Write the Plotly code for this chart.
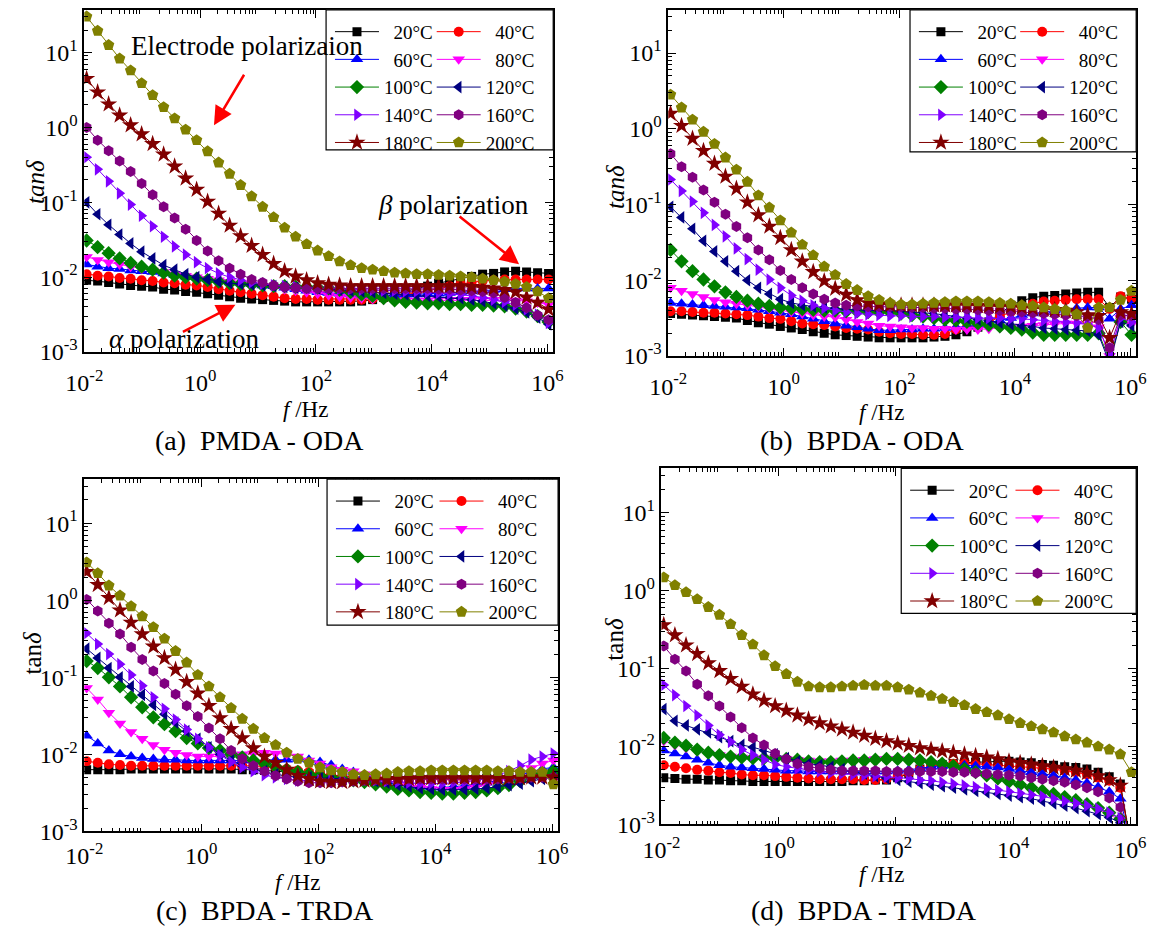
import plotly.graph_objects as go

# ---------------------------------------------------------------- data
FREQ_HZ = [0.01096, 0.01698, 0.0263, 0.04074, 0.0631, 0.09772, 0.1514, 0.2344, 0.3631, 0.5623,
           0.871, 1.349, 2.089, 3.236, 5.012, 7.762, 12.02, 18.62, 28.84, 44.67,
           69.18, 107.2, 166.0, 257.0, 398.1, 616.6, 955.0, 1479, 2291, 3548,
           5495, 8511, 13180, 20420, 31620, 48980, 75860, 117500, 182000, 281800,
           436500, 676100, 1047000]

TEMPS = ["20°C", "40°C", "60°C", "80°C", "100°C", "120°C", "140°C", "160°C", "180°C", "200°C"]
COLORS = ["#000000", "#FF0000", "#0000FF", "#FF00FF", "#008000",
          "#000080", "#8000FF", "#800080", "#800000", "#808000"]
SYMBOLS = ["square", "circle", "triangle-up", "triangle-down", "diamond",
           "triangle-left", "triangle-right", "hexagon", "star", "pentagon"]
MARKER_SIZES = [9, 10, 11, 11, 11, 11, 11, 11, 13, 12]

# log10(tan delta), one list per temperature
# (a) PMDA - ODA
A_20C = [-2.04, -2.05, -2.07, -2.09, -2.11, -2.12, -2.13, -2.16, -2.17, -2.19,
         -2.20, -2.22, -2.24, -2.26, -2.28, -2.29, -2.30, -2.31, -2.32, -2.33,
         -2.33, -2.33, -2.33, -2.33, -2.33, -2.32, -2.30, -2.27, -2.23, -2.19,
         -2.15, -2.12, -2.08, -2.05, -2.02, -1.99, -1.96, -1.95, -1.93, -1.92,
         -1.93, -1.94, -1.95]
A_40C = [-1.96, -1.98, -1.99, -2.01, -2.02, -2.04, -2.05, -2.07, -2.08, -2.10,
         -2.11, -2.13, -2.16, -2.18, -2.20, -2.22, -2.24, -2.26, -2.28, -2.29,
         -2.29, -2.30, -2.30, -2.30, -2.30, -2.30, -2.29, -2.28, -2.26, -2.24,
         -2.21, -2.18, -2.15, -2.12, -2.09, -2.07, -2.05, -2.04, -2.03, -2.03,
         -2.03, -2.03, -2.03]
A_60C = [-1.83, -1.86, -1.88, -1.89, -1.91, -1.92, -1.93, -1.95, -1.97, -1.99,
         -2.00, -2.02, -2.04, -2.05, -2.07, -2.09, -2.11, -2.12, -2.14, -2.16,
         -2.18, -2.20, -2.21, -2.22, -2.23, -2.24, -2.24, -2.24, -2.24, -2.23,
         -2.23, -2.22, -2.22, -2.21, -2.20, -2.19, -2.18, -2.17, -2.16, -2.15,
         -2.15, -2.15, -2.15]
A_80C = [-1.73, -1.77, -1.80, -1.83, -1.86, -1.89, -1.91, -1.93, -1.96, -1.98,
         -2.00, -2.02, -2.04, -2.06, -2.08, -2.10, -2.12, -2.14, -2.16, -2.18,
         -2.20, -2.22, -2.24, -2.26, -2.27, -2.28, -2.29, -2.30, -2.31, -2.31,
         -2.31, -2.31, -2.30, -2.30, -2.30, -2.30, -2.30, -2.30, -2.30, -2.31,
         -2.32, -2.34, -2.37]
A_100C = [-1.51, -1.60, -1.68, -1.75, -1.81, -1.86, -1.90, -1.94, -1.98, -2.00,
          -2.02, -2.04, -2.06, -2.08, -2.09, -2.10, -2.11, -2.12, -2.12, -2.13,
          -2.13, -2.14, -2.15, -2.17, -2.20, -2.23, -2.25, -2.28, -2.31, -2.33,
          -2.34, -2.35, -2.35, -2.36, -2.36, -2.37, -2.37, -2.38, -2.39, -2.42,
          -2.46, -2.52, -2.60]
A_120C = [-1.00, -1.16, -1.30, -1.43, -1.55, -1.66, -1.75, -1.84, -1.90, -1.96,
          -2.00, -2.03, -2.06, -2.08, -2.09, -2.10, -2.11, -2.12, -2.13, -2.14,
          -2.14, -2.15, -2.16, -2.17, -2.18, -2.19, -2.20, -2.21, -2.22, -2.23,
          -2.24, -2.25, -2.26, -2.27, -2.28, -2.30, -2.32, -2.35, -2.38, -2.42,
          -2.47, -2.54, -2.63]
A_140C = [-0.40, -0.56, -0.72, -0.88, -1.03, -1.18, -1.32, -1.46, -1.59, -1.70,
          -1.80, -1.88, -1.95, -2.00, -2.04, -2.07, -2.09, -2.11, -2.12, -2.13,
          -2.14, -2.15, -2.15, -2.16, -2.16, -2.17, -2.17, -2.18, -2.18, -2.19,
          -2.19, -2.20, -2.21, -2.22, -2.23, -2.25, -2.27, -2.30, -2.33, -2.37,
          -2.43, -2.50, -2.61]
A_160C = [0.00, -0.17, -0.31, -0.45, -0.59, -0.75, -0.90, -1.06, -1.21, -1.36,
          -1.51, -1.65, -1.78, -1.88, -1.96, -2.03, -2.07, -2.11, -2.13, -2.14,
          -2.15, -2.15, -2.15, -2.15, -2.15, -2.15, -2.15, -2.15, -2.15, -2.15,
          -2.15, -2.15, -2.16, -2.16, -2.17, -2.18, -2.19, -2.21, -2.27, -2.34,
          -2.41, -2.51, -2.57]
A_180C = [0.65, 0.47, 0.31, 0.16, 0.03, -0.09, -0.22, -0.36, -0.52, -0.68,
          -0.83, -0.99, -1.15, -1.31, -1.45, -1.58, -1.70, -1.82, -1.92, -1.99,
          -2.04, -2.08, -2.10, -2.11, -2.12, -2.12, -2.12, -2.12, -2.12, -2.12,
          -2.12, -2.12, -2.12, -2.12, -2.12, -2.13, -2.14, -2.15, -2.17, -2.20,
          -2.27, -2.34, -2.43]
A_200C = [1.48, 1.29, 1.10, 0.92, 0.76, 0.59, 0.43, 0.27, 0.12, -0.03,
          -0.17, -0.32, -0.47, -0.62, -0.77, -0.92, -1.06, -1.20, -1.34, -1.46,
          -1.56, -1.645, -1.72, -1.79, -1.84, -1.88, -1.90, -1.92, -1.94, -1.95,
          -1.96, -1.96, -1.97, -1.98, -1.99, -2.00, -2.02, -2.04, -2.06, -2.09,
          -2.13, -2.19, -2.28]

# (b) BPDA - ODA
B_20C = [-2.44, -2.45, -2.46, -2.47, -2.48, -2.49, -2.50, -2.53, -2.56, -2.58,
         -2.61, -2.63, -2.65, -2.68, -2.70, -2.72, -2.73, -2.74, -2.75, -2.76,
         -2.76, -2.76, -2.76, -2.76, -2.75, -2.74, -2.72, -2.68, -2.62, -2.55,
         -2.45, -2.33, -2.27, -2.23, -2.21, -2.20, -2.18, -2.17, -2.16, -2.16,
         -2.36, -2.22, -2.25]
B_40C = [-2.41, -2.41, -2.42, -2.43, -2.43, -2.44, -2.45, -2.46, -2.48, -2.50,
         -2.51, -2.54, -2.57, -2.58, -2.59, -2.61, -2.63, -2.64, -2.65, -2.68,
         -2.70, -2.71, -2.71, -2.72, -2.72, -2.71, -2.65, -2.62, -2.60, -2.56,
         -2.48, -2.42, -2.36, -2.31, -2.28, -2.27, -2.26, -2.25, -2.25, -2.25,
         -2.38, -2.21, -2.24]
B_60C = [-2.30, -2.31, -2.32, -2.33, -2.34, -2.35, -2.36, -2.37, -2.39, -2.41,
         -2.43, -2.45, -2.48, -2.51, -2.54, -2.57, -2.60, -2.62, -2.64, -2.66,
         -2.66, -2.65, -2.65, -2.64, -2.64, -2.63, -2.62, -2.61, -2.59, -2.56,
         -2.53, -2.50, -2.46, -2.44, -2.42, -2.40, -2.38, -2.37, -2.36, -2.36,
         -2.51, -2.38, -2.33]
B_80C = [-2.10, -2.14, -2.18, -2.22, -2.26, -2.29, -2.31, -2.33, -2.35, -2.38,
         -2.40, -2.42, -2.44, -2.46, -2.48, -2.49, -2.52, -2.55, -2.57, -2.60,
         -2.61, -2.62, -2.63, -2.63, -2.64, -2.64, -2.65, -2.65, -2.65, -2.64,
         -2.63, -2.62, -2.61, -2.60, -2.59, -2.58, -2.57, -2.57, -2.58, -2.62,
         -3.00, -2.50, -2.58]
B_100C = [-1.60, -1.75, -1.88, -1.99, -2.08, -2.16, -2.22, -2.27, -2.31, -2.34,
          -2.36, -2.37, -2.38, -2.39, -2.40, -2.40, -2.41, -2.41, -2.42, -2.42,
          -2.42, -2.44, -2.46, -2.48, -2.50, -2.52, -2.53, -2.55, -2.57, -2.59,
          -2.61, -2.63, -2.65, -2.69, -2.72, -2.72, -2.72, -2.72, -2.72, -2.70,
          -3.05, -2.55, -2.72]
B_120C = [-1.03, -1.17, -1.32, -1.48, -1.62, -1.75, -1.88, -2.00, -2.10, -2.18,
          -2.25, -2.30, -2.33, -2.35, -2.36, -2.37, -2.38, -2.39, -2.40, -2.40,
          -2.40, -2.41, -2.42, -2.43, -2.44, -2.46, -2.48, -2.50, -2.52, -2.54,
          -2.56, -2.58, -2.60, -2.62, -2.63, -2.64, -2.65, -2.66, -2.67, -2.72,
          -3.10, -2.55, -2.60]
B_140C = [-0.67, -0.82, -0.96, -1.11, -1.27, -1.42, -1.58, -1.72, -1.86, -1.99,
          -2.10, -2.20, -2.27, -2.33, -2.37, -2.40, -2.42, -2.44, -2.45, -2.46,
          -2.47, -2.47, -2.48, -2.48, -2.48, -2.49, -2.49, -2.49, -2.50, -2.50,
          -2.50, -2.51, -2.51, -2.52, -2.53, -2.54, -2.55, -2.56, -2.58, -2.63,
          -2.97, -2.50, -2.55]
B_160C = [-0.33, -0.50, -0.64, -0.81, -0.97, -1.13, -1.29, -1.44, -1.60, -1.73,
          -1.87, -1.99, -2.10, -2.18, -2.25, -2.30, -2.33, -2.34, -2.35, -2.35,
          -2.35, -2.35, -2.36, -2.36, -2.37, -2.37, -2.38, -2.38, -2.39, -2.40,
          -2.40, -2.41, -2.42, -2.43, -2.44, -2.45, -2.46, -2.47, -2.48, -2.52,
          -2.89, -2.46, -2.47]
B_180C = [0.20, 0.04, -0.13, -0.29, -0.46, -0.63, -0.79, -0.97, -1.14, -1.29,
          -1.44, -1.60, -1.75, -1.89, -2.01, -2.11, -2.19, -2.26, -2.30, -2.32,
          -2.33, -2.33, -2.33, -2.33, -2.33, -2.33, -2.33, -2.33, -2.34, -2.34,
          -2.35, -2.35, -2.36, -2.37, -2.38, -2.39, -2.40, -2.42, -2.46, -2.47,
          -2.76, -2.42, -2.44]
B_200C = [0.45, 0.28, 0.12, -0.04, -0.20, -0.38, -0.54, -0.70, -0.88, -1.04,
          -1.21, -1.37, -1.53, -1.67, -1.82, -1.93, -2.05, -2.13, -2.21, -2.26,
          -2.30, -2.32, -2.32, -2.31, -2.30, -2.29, -2.28, -2.28, -2.28, -2.29,
          -2.30, -2.31, -2.33, -2.34, -2.36, -2.38, -2.40, -2.45, -2.63, -2.36,
          -2.36, -2.26, -2.14]

# (c) BPDA - TRDA
C_20C = [-2.20, -2.20, -2.20, -2.20, -2.19, -2.19, -2.19, -2.19, -2.19, -2.19,
         -2.19, -2.19, -2.19, -2.19, -2.20, -2.20, -2.21, -2.22, -2.23, -2.24,
         -2.25, -2.26, -2.27, -2.28, -2.29, -2.30, -2.31, -2.31, -2.31, -2.32,
         -2.32, -2.32, -2.32, -2.32, -2.32, -2.32, -2.31, -2.31, -2.30, -2.29,
         -2.28, -2.27, -2.27]
C_40C = [-2.09, -2.11, -2.13, -2.14, -2.15, -2.15, -2.15, -2.15, -2.15, -2.15,
         -2.15, -2.15, -2.15, -2.15, -2.15, -2.15, -2.16, -2.17, -2.19, -2.21,
         -2.23, -2.25, -2.27, -2.29, -2.30, -2.31, -2.31, -2.32, -2.32, -2.32,
         -2.33, -2.33, -2.33, -2.33, -2.33, -2.33, -2.32, -2.31, -2.30, -2.29,
         -2.28, -2.27, -2.27]
C_60C = [-1.76, -1.86, -1.95, -2.00, -2.03, -2.05, -2.06, -2.07, -2.07, -2.08,
         -2.08, -2.08, -2.08, -2.08, -2.08, -2.08, -2.08, -2.07, -2.07, -2.06,
         -2.07, -2.10, -2.14, -2.19, -2.23, -2.27, -2.31, -2.35, -2.38, -2.41,
         -2.42, -2.43, -2.43, -2.42, -2.41, -2.39, -2.37, -2.34, -2.30, -2.26,
         -2.22, -2.19, -2.17]
C_80C = [-1.14, -1.29, -1.46, -1.60, -1.71, -1.80, -1.88, -1.94, -1.98, -2.01,
         -2.03, -2.03, -2.03, -2.02, -2.00, -1.99, -1.98, -1.99, -2.00, -2.03,
         -2.08, -2.12, -2.17, -2.20, -2.22, -2.26, -2.30, -2.34, -2.38, -2.41,
         -2.43, -2.45, -2.46, -2.46, -2.45, -2.43, -2.40, -2.36, -2.31, -2.25,
         -2.18, -2.12, -2.08]
C_100C = [-0.79, -0.88, -1.00, -1.12, -1.26, -1.39, -1.52, -1.61, -1.70, -1.79,
          -1.86, -1.92, -1.95, -2.00, -2.04, -2.08, -2.12, -2.16, -2.20, -2.23,
          -2.26, -2.28, -2.30, -2.32, -2.34, -2.36, -2.39, -2.42, -2.45, -2.47,
          -2.49, -2.50, -2.51, -2.51, -2.50, -2.49, -2.47, -2.44, -2.40, -2.35,
          -2.30, -2.25, -2.22]
C_120C = [-0.63, -0.75, -0.88, -1.00, -1.12, -1.23, -1.36, -1.48, -1.59, -1.70,
          -1.80, -1.91, -2.00, -2.08, -2.15, -2.19, -2.22, -2.26, -2.28, -2.30,
          -2.30, -2.31, -2.31, -2.32, -2.32, -2.33, -2.35, -2.37, -2.40, -2.42,
          -2.44, -2.45, -2.46, -2.46, -2.46, -2.45, -2.44, -2.42, -2.40, -2.38,
          -2.35, -2.32, -2.30]
C_140C = [-0.43, -0.57, -0.70, -0.83, -0.97, -1.11, -1.26, -1.41, -1.55, -1.68,
          -1.80, -1.91, -2.01, -2.10, -2.17, -2.22, -2.27, -2.30, -2.32, -2.34,
          -2.34, -2.34, -2.34, -2.33, -2.33, -2.33, -2.34, -2.35, -2.36, -2.37,
          -2.38, -2.38, -2.38, -2.37, -2.36, -2.34, -2.31, -2.27, -2.22, -2.15,
          -2.07, -2.03, -1.99]
C_160C = [0.01, -0.14, -0.30, -0.44, -0.61, -0.77, -0.92, -1.08, -1.22, -1.37,
          -1.51, -1.66, -1.80, -1.95, -2.06, -2.15, -2.22, -2.28, -2.32, -2.35,
          -2.37, -2.37, -2.37, -2.36, -2.35, -2.34, -2.33, -2.33, -2.32, -2.32,
          -2.32, -2.32, -2.32, -2.32, -2.32, -2.32, -2.32, -2.32, -2.31, -2.31,
          -2.30, -2.30, -2.30]
C_180C = [0.37, 0.20, 0.03, -0.13, -0.29, -0.44, -0.60, -0.75, -0.90, -1.06,
          -1.21, -1.37, -1.53, -1.67, -1.79, -1.92, -2.03, -2.11, -2.20, -2.28,
          -2.32, -2.35, -2.36, -2.36, -2.35, -2.34, -2.33, -2.33, -2.32, -2.32,
          -2.31, -2.31, -2.31, -2.31, -2.31, -2.31, -2.31, -2.31, -2.31, -2.31,
          -2.30, -2.30, -2.30]
C_200C = [0.49, 0.35, 0.19, 0.06, -0.08, -0.21, -0.35, -0.50, -0.66, -0.81,
          -0.97, -1.12, -1.26, -1.40, -1.54, -1.67, -1.79, -1.88, -1.98, -2.06,
          -2.11, -2.17, -2.21, -2.23, -2.26, -2.27, -2.26, -2.25, -2.23, -2.22,
          -2.22, -2.21, -2.21, -2.21, -2.21, -2.21, -2.21, -2.22, -2.22, -2.23,
          -2.23, -2.23, -2.39]

# (d) BPDA - TMDA
D_20C = [-2.40, -2.41, -2.42, -2.42, -2.43, -2.43, -2.44, -2.44, -2.45, -2.45,
         -2.45, -2.45, -2.45, -2.45, -2.45, -2.45, -2.45, -2.44, -2.44, -2.43,
         -2.43, -2.40, -2.35, -2.29, -2.25, -2.23, -2.22, -2.21, -2.20, -2.20,
         -2.19, -2.19, -2.20, -2.21, -2.23, -2.24, -2.26, -2.27, -2.29, -2.33,
         -2.39, -2.48, -3.30]
D_40C = [-2.24, -2.26, -2.28, -2.30, -2.31, -2.33, -2.34, -2.36, -2.37, -2.37,
         -2.38, -2.39, -2.40, -2.41, -2.42, -2.42, -2.42, -2.42, -2.43, -2.43,
         -2.42, -2.39, -2.34, -2.29, -2.25, -2.23, -2.22, -2.22, -2.22, -2.23,
         -2.24, -2.25, -2.26, -2.27, -2.28, -2.29, -2.31, -2.33, -2.36, -2.40,
         -2.44, -2.53, -3.30]
D_60C = [-2.05, -2.09, -2.13, -2.17, -2.21, -2.24, -2.26, -2.27, -2.28, -2.29,
         -2.30, -2.31, -2.31, -2.32, -2.32, -2.32, -2.32, -2.32, -2.32, -2.32,
         -2.32, -2.31, -2.30, -2.28, -2.26, -2.25, -2.24, -2.24, -2.25, -2.26,
         -2.27, -2.29, -2.31, -2.33, -2.35, -2.37, -2.40, -2.43, -2.47, -2.52,
         -2.58, -2.67, -3.30]
D_80C = [-1.93, -1.98, -2.02, -2.06, -2.09, -2.11, -2.13, -2.14, -2.15, -2.15,
         -2.16, -2.16, -2.17, -2.18, -2.19, -2.19, -2.18, -2.18, -2.17, -2.16,
         -2.16, -2.16, -2.17, -2.19, -2.21, -2.24, -2.27, -2.31, -2.35, -2.39,
         -2.43, -2.47, -2.51, -2.55, -2.59, -2.63, -2.67, -2.71, -2.76, -2.81,
         -2.87, -2.95, -3.30]
D_100C = [-1.89, -1.95, -1.99, -2.04, -2.08, -2.11, -2.13, -2.14, -2.15, -2.15,
          -2.15, -2.16, -2.17, -2.19, -2.20, -2.20, -2.19, -2.18, -2.18, -2.17,
          -2.16, -2.16, -2.17, -2.18, -2.20, -2.22, -2.25, -2.29, -2.33, -2.37,
          -2.41, -2.45, -2.49, -2.53, -2.57, -2.61, -2.65, -2.69, -2.74, -2.79,
          -2.85, -2.93, -3.30]
D_120C = [-1.52, -1.67, -1.73, -1.78, -1.82, -1.88, -1.93, -1.98, -2.01, -2.05,
          -2.10, -2.15, -2.19, -2.22, -2.24, -2.26, -2.29, -2.32, -2.35, -2.38,
          -2.41, -2.43, -2.45, -2.47, -2.49, -2.51, -2.53, -2.55, -2.57, -2.59,
          -2.61, -2.63, -2.65, -2.67, -2.70, -2.73, -2.76, -2.79, -2.83, -2.87,
          -2.91, -2.98, -3.30]
D_140C = [-1.21, -1.34, -1.48, -1.60, -1.73, -1.85, -1.94, -2.04, -2.11, -2.17,
          -2.23, -2.26, -2.28, -2.30, -2.32, -2.34, -2.35, -2.36, -2.37, -2.38,
          -2.39, -2.40, -2.41, -2.43, -2.44, -2.46, -2.48, -2.50, -2.52, -2.54,
          -2.56, -2.58, -2.60, -2.62, -2.64, -2.67, -2.70, -2.73, -2.76, -2.80,
          -2.85, -2.92, -3.30]
D_160C = [-0.71, -0.88, -1.03, -1.20, -1.35, -1.48, -1.62, -1.76, -1.89, -1.98,
          -2.09, -2.16, -2.22, -2.26, -2.28, -2.30, -2.31, -2.31, -2.31, -2.31,
          -2.32, -2.32, -2.32, -2.32, -2.32, -2.32, -2.33, -2.33, -2.34, -2.35,
          -2.36, -2.37, -2.38, -2.40, -2.42, -2.44, -2.46, -2.49, -2.53, -2.58,
          -2.66, -2.78, -3.30]
D_180C = [-0.44, -0.57, -0.70, -0.81, -0.93, -1.03, -1.13, -1.23, -1.33, -1.41,
          -1.48, -1.54, -1.60, -1.65, -1.70, -1.74, -1.78, -1.82, -1.86, -1.90,
          -1.93, -1.96, -1.99, -2.02, -2.04, -2.06, -2.08, -2.10, -2.12, -2.14,
          -2.16, -2.19, -2.21, -2.23, -2.25, -2.27, -2.29, -2.31, -2.34, -2.38,
          -2.43, -2.50, -3.30]
D_200C = [0.17, 0.07, -0.02, -0.11, -0.21, -0.31, -0.43, -0.57, -0.69, -0.83,
          -0.97, -1.07, -1.17, -1.23, -1.24, -1.24, -1.23, -1.22, -1.21, -1.22,
          -1.22, -1.24, -1.27, -1.31, -1.35, -1.39, -1.43, -1.47, -1.52, -1.56,
          -1.60, -1.65, -1.70, -1.74, -1.78, -1.82, -1.87, -1.91, -1.95, -2.00,
          -2.04, -2.10, -2.33]

PANEL_A = [A_20C, A_40C, A_60C, A_80C, A_100C, A_120C, A_140C, A_160C, A_180C, A_200C]
PANEL_B = [B_20C, B_40C, B_60C, B_80C, B_100C, B_120C, B_140C, B_160C, B_180C, B_200C]
PANEL_C = [C_20C, C_40C, C_60C, C_80C, C_100C, C_120C, C_140C, C_160C, C_180C, C_200C]
PANEL_D = [D_20C, D_40C, D_60C, D_80C, D_100C, D_120C, D_140C, D_160C, D_180C, D_200C]

X_TICKVALS = [1e-2, 1e0, 1e2, 1e4, 1e6]
X_TICKTEXT = ["10<sup>-2</sup>", "10<sup>0</sup>", "10<sup>2</sup>", "10<sup>4</sup>", "10<sup>6</sup>"]
Y_TICKVALS = [1e-3, 1e-2, 1e-1, 1e0, 1e1]
Y_TICKTEXT = ["10<sup>-3</sup>", "10<sup>-2</sup>", "10<sup>-1</sup>", "10<sup>0</sup>", "10<sup>1</sup>"]
X_MINOR = [m * 10.0 ** d for d in range(-2, 7) for m in range(2, 10)]
Y_MINOR = [m * 10.0 ** d for d in range(-3, 2) for m in range(2, 10)]

# ---------------------------------------------------------------- layout
W, H = 1153, 936
FONT = "Liberation Serif"
NB = "\u00a0"


def fx(px):
    return px / W


def fy(py):
    return 1 - py / H


PANELS = [
    dict(data=PANEL_A, box=(67, 10, 548, 357), leg=(315, 10, 548, 152), stand=8,
         caption="(a)" + NB * 2 + "PMDA - ODA", cap=(247, 447),
         ytitle="<i>tanδ</i>", ypos=(17, 185), xpos=(294, 415)),
    dict(data=PANEL_B, box=(666, 10, 1146, 361), leg=(914, 10, 1146, 154), stand=8,
         caption="(b)" + NB * 2 + "BPDA - ODA", cap=(865, 447),
         ytitle="<i>tanδ</i>", ypos=(612, 190), xpos=(885, 418)),
    dict(data=PANEL_C, box=(67, 486, 553, 843), leg=(316, 486, 553, 634), stand=2,
         caption="(c)" + NB * 2 + "BPDA - TRDA", cap=(252, 923),
         ytitle="tan<i>δ</i>", ypos=(14, 662), xpos=(286, 895)),
    dict(data=PANEL_D, box=(659, 475, 1146, 836), leg=(905, 475, 1146, 622), stand=3,
         caption="(d)" + NB * 2 + "BPDA - TMDA", cap=(867, 923),
         ytitle="tan<i>δ</i>", ypos=(610, 648), xpos=(885, 887)),
]

fig = go.Figure()
layout = dict(width=W, height=H, margin=dict(l=0, r=0, t=0, b=0),
              paper_bgcolor="white", plot_bgcolor="white",
              font=dict(family=FONT, color="black"), showlegend=True)
annotations = []
shapes = []


def text_ann(text, xy, size, angle=0):
    return dict(text=text, x=fx(xy[0]), y=fy(xy[1]), xref="paper", yref="paper",
                xanchor="center", yanchor="middle", showarrow=False, textangle=angle,
                font=dict(family=FONT, size=size, color="black"))


for pi, p in enumerate(PANELS):
    n = pi + 1
    xa = "x" if n == 1 else f"x{n}"
    ya = "y" if n == 1 else f"y{n}"
    l, t, r, b = p["box"]
    axis_style = dict(type="log", showline=True, linecolor="black", linewidth=1.5,
                      mirror="allticks", ticks="inside", ticklen=8, tickwidth=1.2,
                      tickcolor="black", showgrid=False, zeroline=False,
                      tickfont=dict(family=FONT, size=24, color="black"))
    layout[f"xaxis{'' if n == 1 else n}"] = dict(
        axis_style, domain=[fx(l), fx(r)], anchor=ya, range=[-2, 6.1],
        tickmode="array", tickvals=X_TICKVALS, ticktext=X_TICKTEXT,
        ticklabelstandoff=p["stand"],
        minor=dict(tickmode="array", tickvals=X_MINOR, ticks="inside", ticklen=4,
                   tickwidth=1, tickcolor="black", showgrid=False))
    layout[f"yaxis{'' if n == 1 else n}"] = dict(
        axis_style, domain=[fy(b), fy(t)], anchor=xa, range=[-3, 1.57],
        tickmode="array", tickvals=Y_TICKVALS, ticktext=Y_TICKTEXT,
        minor=dict(tickmode="array", tickvals=Y_MINOR, ticks="inside", ticklen=4,
                   tickwidth=1, tickcolor="black", showgrid=False))

    # legend: two columns -> two legends per panel
    ll, lt, lr, lb = p["leg"]
    leg_ids = [f"legend{'' if 2 * pi + 1 == 1 else 2 * pi + 1}", f"legend{2 * pi + 2}"]
    col_x = [ll + 4, ll + (lr - ll) * 0.465]
    for c in range(2):
        layout[leg_ids[c]] = dict(
            x=fx(col_x[c]), y=fy(lt + 3), xanchor="left", yanchor="top",
            bgcolor="rgba(0,0,0,0)", borderwidth=0, itemwidth=44,
            font=dict(family=FONT, size=19, color="black"), tracegroupgap=0)
    shapes.append(dict(type="rect", xref="paper", yref="paper",
                       x0=fx(ll), x1=fx(lr), y0=fy(lb), y1=fy(lt),
                       line=dict(color="black", width=1.2), fillcolor="white", layer="above"))

    for si, vals in enumerate(p["data"]):
        label = TEMPS[si] if len(TEMPS[si]) == 5 else NB * 2 + TEMPS[si]
        fig.add_trace(go.Scatter(
            x=FREQ_HZ, y=[10 ** v for v in vals], mode="lines+markers", name=label,
            xaxis=xa, yaxis=ya, legend=leg_ids[si % 2],
            line=dict(color=COLORS[si], width=1),
            marker=dict(symbol=SYMBOLS[si], size=MARKER_SIZES[si], color=COLORS[si],
                        line=dict(width=0)),
            hoverinfo="skip"))

    annotations.append(text_ann(p["caption"], p["cap"], 28))
    annotations.append(text_ann(p["ytitle"], p["ypos"], 25, -90))
    annotations.append(text_ann("<i>f</i> /Hz", p["xpos"], 23))

# annotations of panel (a)
annotations += [
    text_ann("Electrode polarizaion", (234, 47), 27),
    text_ann("<i>β</i> polarization", (446, 208), 27),
    text_ann("<i>α</i> polarization", (169, 344), 27),
]
for head, tail in [((200, 127), (231, 75)), ((513, 268), (452, 219)), ((222, 309), (168, 337))]:
    annotations.append(dict(text="", x=fx(head[0]), y=fy(head[1]), xref="paper", yref="paper",
                            ax=tail[0] - head[0], ay=tail[1] - head[1], showarrow=True,
                            arrowhead=2, arrowsize=1.5, arrowwidth=2.5, arrowcolor="#FF0000",
                            standoff=0))

layout["annotations"] = annotations
layout["shapes"] = shapes
fig.update_layout(**layout)
fig.write_html("out.html")
